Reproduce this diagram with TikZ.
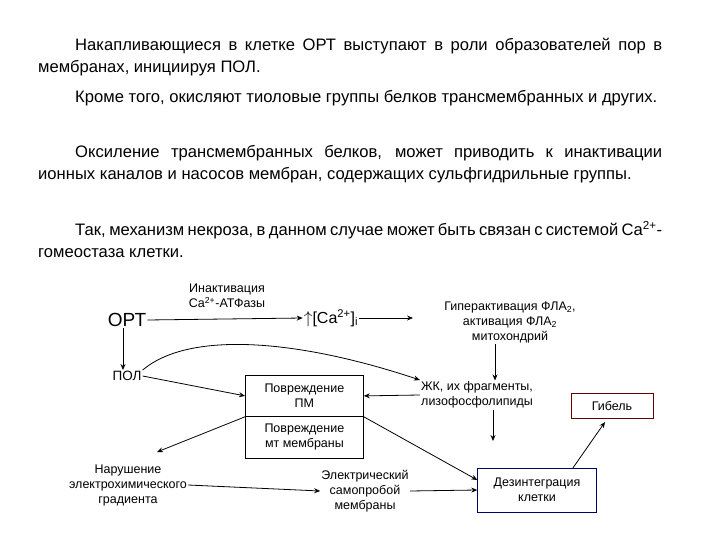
\documentclass[tikz,border=0pt]{standalone}
\usepackage{fontspec}
\setmainfont{Liberation Sans}
\usetikzlibrary{arrows.meta}
\begin{document}
\begin{tikzpicture}[x=1pt,y=-1pt,
  para/.style={anchor=north west,inner sep=0pt,text width=624pt,font=\fontsize{16.6}{22}\selectfont,align=justify},
  lbl/.style={font=\fontsize{12.5}{15}\selectfont,align=center,inner sep=1pt},
  bx/.style={draw,thick,font=\fontsize{12.5}{15}\selectfont,align=center,inner sep=0pt},
  arr/.style={thick,-{Stealth[length=6pt,width=5pt]}}]
\useasboundingbox (0,0) rectangle (720,540);
\node[para] (p1) at (38,38) {\hspace*{37pt}Накапливающиеся в клетке ОРТ выступают в роли образователей пор в мембранах, инициируя ПОЛ.};
\node[para] (p2) at (38,90) {\hspace*{37pt}Кроме того, окисляют тиоловые группы белков трансмембранных и других.};
\node[para] (p3) at (38,145) {\hspace*{37pt}Оксиление трансмембранных белков, может приводить к инактивации ионных каналов и насосов мембран, содержащих сульфгидрильные группы.};
\node[para] (p4) at (38,221) {\hspace*{37pt}Так, механизм некроза, в данном случае может быть связан с системой Ca\textsuperscript{2+}-гомеостаза клетки.};

\node[font=\fontsize{19}{22}\selectfont,inner sep=1pt] (ort) at (127,320) {ОРТ};
\node[lbl] (inakt) at (227,296) {Инактивация\\Ca\textsuperscript{2+}-АТФазы};
\node[font=\fontsize{16}{18}\selectfont,inner sep=1pt] (ca) at (331,318) {$\uparrow$[Ca\textsuperscript{2+}]\textsubscript{i}};
\node[lbl] (giper) at (510,322) {Гиперактивация ФЛА\textsubscript{2},\\активация ФЛА\textsubscript{2}\\митохондрий};
\node[lbl,font=\fontsize{13.5}{15}\selectfont] (pol) at (127,376) {ПОЛ};
\node[bx,minimum width=118pt,minimum height=41pt,anchor=north west] (pm) at (245,375) {Повреждение\\ПМ};
\node[bx,minimum width=118pt,minimum height=42pt,anchor=north west] (mt) at (245,416) {Повреждение\\мт мембраны};
\node[lbl] (zhk) at (477,395) {ЖК, их фрагменты,\\лизофосфолипиды};
\coordinate (zhkend) at (493,441);
\node[bx,draw=red!40!black,thin,minimum width=82pt,minimum height=25pt] (gib) at (612,406) {Гибель};
\node[lbl] (nar) at (128,485) {Нарушение\\электрохимического\\градиента};
\node[lbl] (el) at (365,491) {Электрический\\самопробой\\мембраны};
\node[bx,draw=blue!40!black,thin,minimum width=119pt,minimum height=44pt] (dez) at (537,490) {Дезинтеграция\\клетки};

\draw[arr] (ort.east) -- (ca.west);
\draw[arr] (ca.east) -- (413,318);
\draw[arr] (ort.south -| 123,0) -- (pol.north -| 123,0);
\draw[arr] (pol.north east) .. controls (190,330) and (300,340) .. (zhk.west |- 0,380);
\draw[arr] (pol.east) -- (pm.west);
\draw[arr] (zhk.west) -- (pm.east);
\draw[arr] (giper.south -| 495,0) -- (zhk.north -| 495,0);
\draw[arr] (zhk.south -| 493,0) -- (zhkend);
\draw[arr] (pm.south east) -- (dez.west |- 0,480);
\draw[arr] (pm.south west) -- (157,452);
\draw[arr] (nar.east) -- (el.west);
\draw[arr] (el.east) -- (dez.west);
\draw[arr] (dez.north -| 573,0) -- (605,422);
\end{tikzpicture}
\end{document}
